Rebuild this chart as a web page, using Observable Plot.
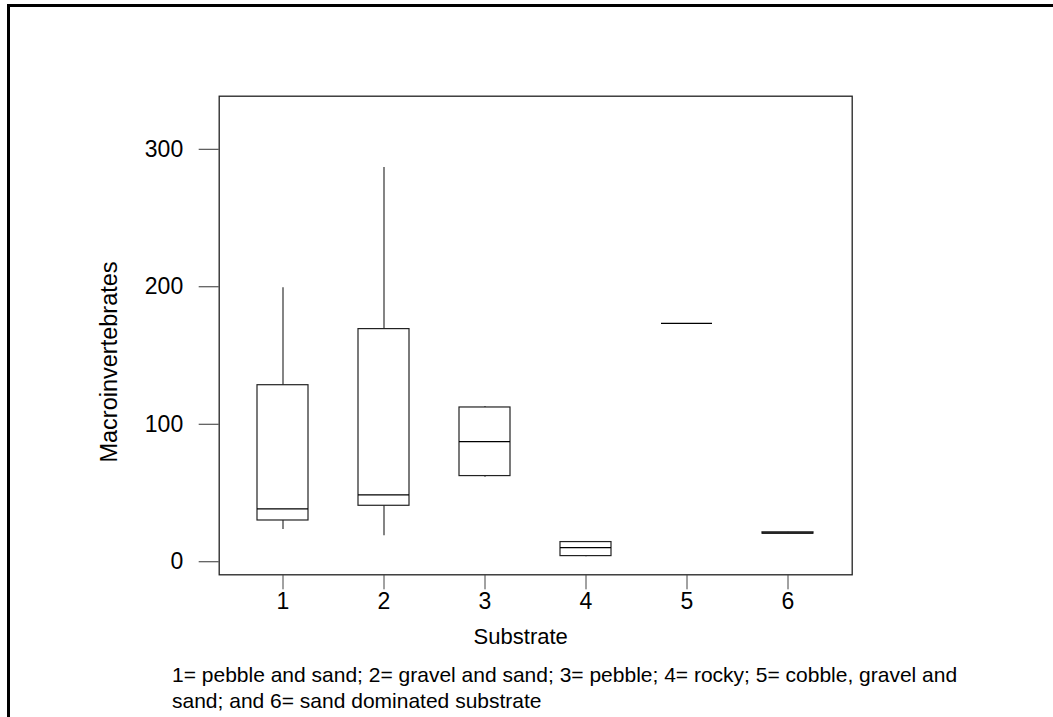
<!DOCTYPE html>
<html>
<head>
<meta charset="utf-8">
<script src="https://cdn.jsdelivr.net/npm/d3@7"></script>
<script src="https://cdn.jsdelivr.net/npm/@observablehq/plot@0.6"></script>
<style>
  html, body { margin: 0; padding: 0; background: #fff; }
  body { width: 1053px; height: 717px; position: relative; overflow: hidden; font-family: "Liberation Sans", Arial, sans-serif; }
  #border { position: absolute; left: 7px; top: 4px; width: 1200px; height: 900px; border-top: 3px solid #000; border-left: 3px solid #000; }
  #chart { position: absolute; left: 0; top: 0; }
  #caption { position: absolute; left: 172px; top: 662px; font-size: 21px; line-height: 26px; color: #000; white-space: nowrap; }
</style>
</head>
<body>
<div id="border"></div>
<div id="chart"></div>
<div id="caption">1= pebble and sand; 2= gravel and sand; 3= pebble; 4= rocky; 5= cobble, gravel and<br>sand; and 6= sand dominated substrate</div>
<script>
// Substrate categories and box-plot summaries (Macroinvertebrates)
const substrates   = [1, 2, 3, 4, 5, 6];
const lowWhisker   = [28.6, 24.0, 66.6, 8.7, 178.4, 25.5];
const q1Values     = [35.1, 45.8, 67.4, 9.2, 178.4, 25.5];
const medianValues = [43.6, 53.8, 92.4, 15.3, 178.4, 26.0];
const q3Values     = [133.5, 174.3, 117.3, 19.4, 178.4, 26.5];
const highWhisker  = [204.4, 291.9, 118.0, 19.9, 178.4, 26.5];
const yTicks = [0, 100, 200, 300];
const xLabel = "Substrate";
const yLabel = "Macroinvertebrates";

const data = substrates.map((s, i) => ({
  s, lo: lowWhisker[i], q1: q1Values[i], med: medianValues[i], q3: q3Values[i], hi: highWhisker[i]
}));

const font = "Liberation Sans, Arial, sans-serif";
const chart = Plot.plot({
  width: 1053,
  height: 660,
  marginLeft: 218.7,
  marginRight: 201.3,
  marginTop: 95.7,
  marginBottom: 85.7,
  style: { fontFamily: font, background: "transparent", color: "#000", overflow: "visible" },
  x: { type: "band", domain: substrates, paddingInner: 0.494, paddingOuter: 0.354, align: 0.5 },
  y: { domain: [-4.4, 343.7] },
  marks: [
    Plot.frame({ stroke: "#222", strokeWidth: 1.3 }),
    Plot.axisY({ ticks: yTicks, tickSize: 20, tickPadding: 16, dy: -7, fontSize: 23, label: null, stroke: "#333", fill: "#000" }),
    Plot.axisX({ tickSize: 15, tickPadding: 3, fontSize: 23, label: null, stroke: "#444", fill: "#000" }),
    Plot.ruleX(data, { x: "s", y1: "lo", y2: "hi", stroke: "#333", strokeWidth: 1.2 }),
    Plot.barY(data, { x: "s", y1: "q1", y2: "q3", fill: "white", stroke: "#222", strokeWidth: 1.2 }),
    Plot.tickY(data, { x: "s", y: "med", stroke: "#000", strokeWidth: 1.2 }),
    Plot.text([xLabel], { text: d => d, frameAnchor: "bottom", lineAnchor: "bottom", textAnchor: "middle", dx: -15, dy: 69, fontSize: 22, fill: "#000" }),
    Plot.text([yLabel], { text: d => d, frameAnchor: "left", lineAnchor: "bottom", textAnchor: "middle", rotate: -90, dx: -102, dy: 26.5, fontSize: 23.5, fill: "#000" })
  ]
});
document.getElementById("chart").appendChild(chart);
</script>
</body>
</html>
